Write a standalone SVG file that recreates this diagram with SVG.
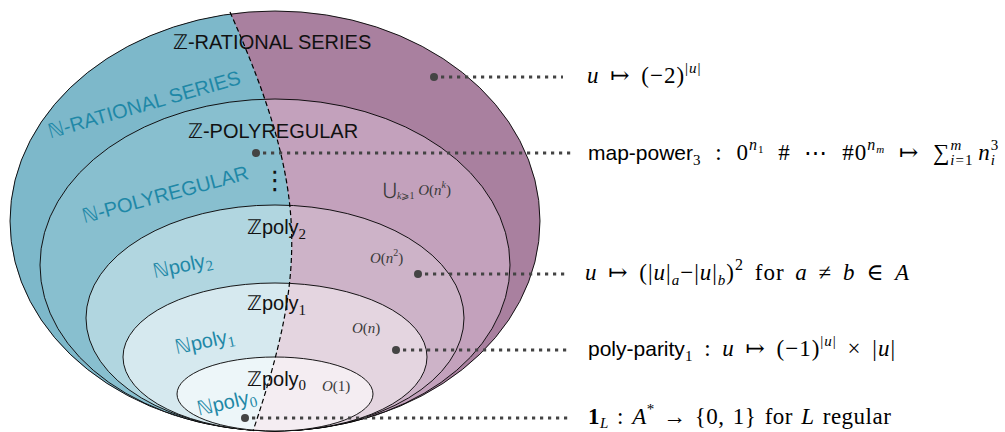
<svg xmlns="http://www.w3.org/2000/svg" width="1005" height="432" viewBox="0 0 1005 432">
<defs>
<style>
.o{fill:none;stroke:#000;stroke-width:0.9}
.sans{font-family:"Liberation Sans","DejaVu Sans",sans-serif;font-size:20px}
.sf{font-family:"Liberation Sans","DejaVu Sans",sans-serif}
.blk{fill:#111}
.teal{fill:#1f88a7}
.cx{font-family:"Liberation Serif","DejaVu Serif",serif;fill:#3a3a3a;font-size:15px}
.m{font-family:"Liberation Serif","DejaVu Serif",serif;font-size:23px;fill:#000;letter-spacing:1px;word-spacing:4px}
.i{font-style:italic}
.dot{fill:#444}
.lead{stroke:#444;stroke-width:3.2;stroke-dasharray:3.2 4.8;fill:none}
.dash{fill:none;stroke:#000;stroke-width:1.2;stroke-dasharray:5 3}
</style>
<clipPath id="left"><path d="M0,0 H230 V12 C308,188 308,268 253,431 V432 H0 Z"/></clipPath>
</defs>

<g id="rational-series">
<ellipse cx="275" cy="221" rx="265" ry="210" fill="#a9809f"/>
<ellipse cx="275" cy="221" rx="265" ry="210" fill="#7db8ca" clip-path="url(#left)"/>
<ellipse class="o" cx="275" cy="221" rx="265" ry="210"/>
</g>
<g id="polyregular">
<ellipse cx="275" cy="265" rx="235" ry="166" fill="#c3a1bc"/>
<ellipse cx="275" cy="265" rx="235" ry="166" fill="#88bfcf" clip-path="url(#left)"/>
<ellipse class="o" cx="275" cy="265" rx="235" ry="166"/>
</g>
<g id="poly2">
<ellipse cx="275" cy="318" rx="189" ry="113" fill="#cdb3c8"/>
<ellipse cx="275" cy="318" rx="189" ry="113" fill="#b1d6e0" clip-path="url(#left)"/>
<ellipse class="o" cx="275" cy="318" rx="189" ry="113"/>
</g>
<g id="poly1">
<ellipse cx="275" cy="357" rx="152" ry="74" fill="#e4d5e0"/>
<ellipse cx="275" cy="357" rx="152" ry="74" fill="#d6e9ef" clip-path="url(#left)"/>
<ellipse class="o" cx="275" cy="357" rx="152" ry="74"/>
</g>
<g id="poly0">
<ellipse cx="275" cy="394" rx="98" ry="37" fill="#f4edf2"/>
<ellipse cx="275" cy="394" rx="98" ry="37" fill="#edf6f9" clip-path="url(#left)"/>
<ellipse class="o" cx="275" cy="394" rx="98" ry="37"/>
</g>
<path id="divider" class="dash" d="M230,12 C308,188 308,268 253,431"/>

<g id="labels">
<text class="sans blk" x="173" y="49">ℤ-RATIONAL SERIES</text>
<text class="sans teal" x="146" y="111" text-anchor="middle" transform="rotate(-16 146 111)">ℕ-RATIONAL SERIES</text>
<text class="sans blk" x="188" y="138">ℤ-POLYREGULAR</text>
<text class="sans teal" x="167" y="201" text-anchor="middle" transform="rotate(-15 167 201)">ℕ-POLYREGULAR</text>
<text x="275" y="189" text-anchor="middle" font-family="DejaVu Sans, sans-serif" font-size="26" fill="#111">⋮</text>
<text class="cx" x="383" y="195"><tspan class="sf" font-size="17">⋃</tspan><tspan font-size="10" dy="4"><tspan class="i">k</tspan>⩾1</tspan><tspan class="i" dy="-4"> O</tspan>(<tspan class="i">n</tspan><tspan class="i" font-size="10" dy="-7">k</tspan><tspan dy="7">)</tspan></text>
<text class="sans blk" x="247" y="234">ℤpoly<tspan font-family="Liberation Serif, serif" font-size="15" dy="5">2</tspan></text>
<text class="sans teal" x="184" y="272" text-anchor="middle" transform="rotate(-12 184 272)">ℕpoly<tspan font-family="Liberation Serif, serif" font-size="15" dy="4">2</tspan></text>
<text class="cx" x="370" y="263"><tspan class="i">O</tspan>(<tspan class="i">n</tspan><tspan font-size="10" dy="-7">2</tspan><tspan dy="7">)</tspan></text>
<text class="sans blk" x="247" y="310">ℤpoly<tspan font-family="Liberation Serif, serif" font-size="15" dy="5">1</tspan></text>
<text class="sans teal" x="206" y="348" text-anchor="middle" transform="rotate(-12 206 348)">ℕpoly<tspan font-family="Liberation Serif, serif" font-size="15" dy="4">1</tspan></text>
<text class="cx" x="352" y="333"><tspan class="i">O</tspan>(<tspan class="i">n</tspan>)</text>
<text class="sans blk" x="247" y="386">ℤpoly<tspan font-family="Liberation Serif, serif" font-size="15" dy="4">0</tspan></text>
<text class="sans teal" x="228" y="409" text-anchor="middle" transform="rotate(-13 228 409)">ℕpoly<tspan font-family="Liberation Serif, serif" font-size="15" dy="4">0</tspan></text>
<text class="cx" x="322" y="391"><tspan class="i">O</tspan>(1)</text>
</g>

<g id="connectors">
<circle class="dot" cx="434" cy="77" r="4"/><path class="lead" d="M441,77 H563"/>
<circle class="dot" cx="256" cy="153" r="4"/><path class="lead" d="M263,153 H572"/>
<circle class="dot" cx="418" cy="274" r="4"/><path class="lead" d="M425,274 H568"/>
<circle class="dot" cx="396" cy="350" r="4"/><path class="lead" d="M403,350 H568"/>
<circle class="dot" cx="245" cy="418" r="4"/><path class="lead" d="M252,418 H568"/>
</g>

<g id="examples">
<text class="m" x="587" y="83"><tspan class="i">u</tspan> ↦ (−2)<tspan font-size="15" dy="-10">|<tspan class="i">u</tspan>|</tspan></text>
<text class="m" x="588" y="160" style="word-spacing:7px"><tspan class="sf" font-size="21" letter-spacing="0">map-power</tspan><tspan font-size="15" dy="5">3</tspan><tspan dy="-5"> : 0</tspan><tspan class="i" font-size="16" dy="-10">n</tspan><tspan font-size="11" dy="3">1</tspan><tspan dy="7"> # ⋯ #0</tspan><tspan class="i" font-size="16" dy="-10">n</tspan><tspan class="i" font-size="11" dy="3">m</tspan><tspan dy="7"> ↦ ∑</tspan><tspan font-size="15" dy="5"><tspan class="i">i</tspan>=1</tspan><tspan class="i" font-size="15" dx="-23" dy="-15">m</tspan><tspan class="i" dx="16" dy="10">n</tspan><tspan class="i" font-size="15" dy="5">i</tspan><tspan font-size="15" dx="-5.2" dy="-15">3</tspan></text>
<text class="m" x="585" y="280"><tspan class="i">u</tspan> ↦ (|<tspan class="i">u</tspan>|<tspan class="i" font-size="15" dy="5">a</tspan><tspan dy="-5">−|</tspan><tspan class="i">u</tspan>|<tspan class="i" font-size="15" dy="5">b</tspan><tspan dy="-5">)</tspan><tspan font-size="16" dy="-10">2</tspan><tspan dy="10"> for </tspan><tspan class="i">a</tspan> ≠ <tspan class="i">b</tspan> ∈ <tspan class="i">A</tspan></text>
<text class="m" x="588" y="356"><tspan class="sf" font-size="21" letter-spacing="0">poly-parity</tspan><tspan font-size="15" dy="5">1</tspan><tspan dy="-5"> : </tspan><tspan class="i">u</tspan> ↦ (−1)<tspan font-size="15" dy="-10">|<tspan class="i">u</tspan>|</tspan><tspan dy="10"> × |</tspan><tspan class="i">u</tspan>|</text>
<text class="m" x="588" y="424" style="letter-spacing:0.5px;word-spacing:2px"><tspan font-weight="bold">1</tspan><tspan class="i" font-size="15" dy="4">L</tspan><tspan dy="-4"> : </tspan><tspan class="i">A</tspan><tspan font-size="15" dy="-10">*</tspan><tspan dy="10"> → {0, 1} for </tspan><tspan class="i">L</tspan> regular</text>
</g>
</svg>
